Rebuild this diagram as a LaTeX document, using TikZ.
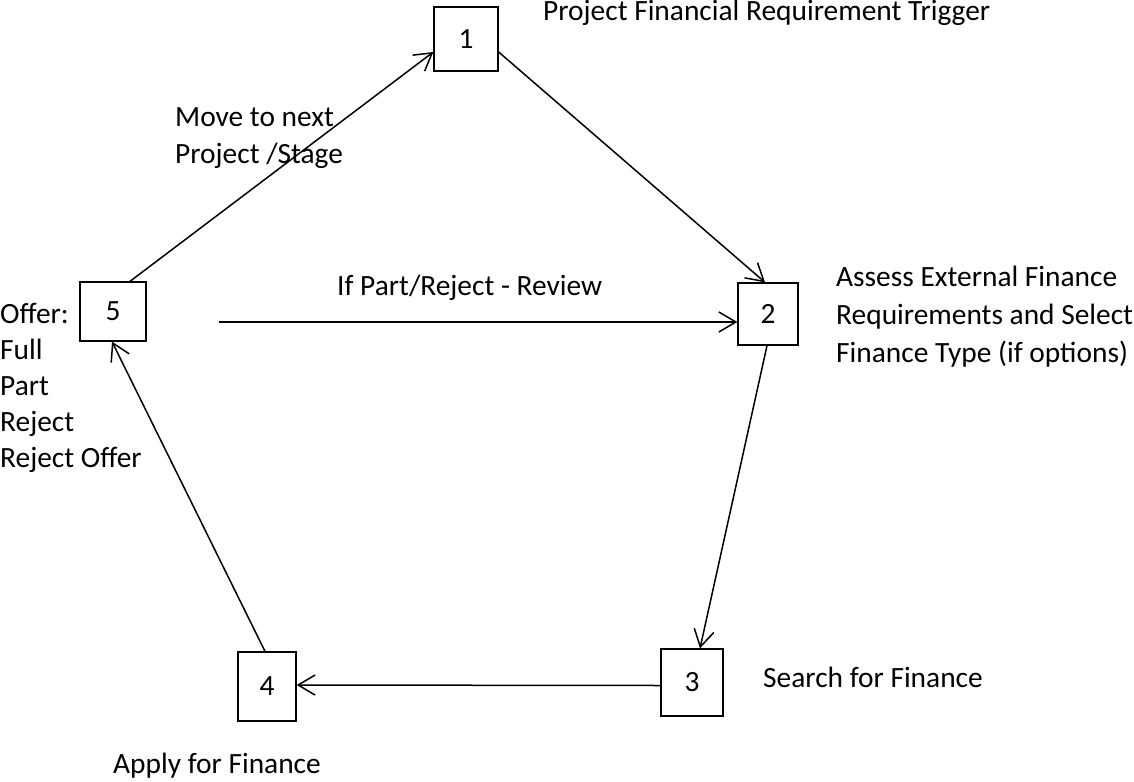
\documentclass[tikz,border=0pt]{standalone}
\usepackage{fontspec}
\setmainfont{Carlito}
\usetikzlibrary{arrows.meta}
\begin{document}
\begin{tikzpicture}[x=1pt,y=-1pt,
  box/.style={draw,line width=1.3pt,inner sep=0pt,font=\fontsize{29.4}{36}\selectfont},
  lbl/.style={inner sep=0pt,font=\fontsize{29.4}{36}\selectfont,align=left},
  conn/.style={line width=1.5pt,-{Straight Barb[length=17pt,width=20pt,line width=1.5pt]}}]
\useasboundingbox (0,0) rectangle (1134,781);
% boxes
\node[box,minimum width=64pt,minimum height=64pt] (n1) at (466,39) {1};
\node[box,minimum width=60pt,minimum height=62pt] (n2) at (768,314) {2};
\node[box,minimum width=62pt,minimum height=67pt] (n3) at (692,682.5) {3};
\node[box,minimum width=58pt,minimum height=69pt] (n4) at (267,686.5) {4};
\node[box,minimum width=66pt,minimum height=59pt] (n5) at (113,311.5) {5};
\coordinate (hs) at (219,322);
% connectors
\draw[conn] ([xshift=17pt]n5.north) -- ([yshift=-13pt]n1.west);
\draw[conn] ([yshift=-13pt]n1.east) -- ([xshift=-3pt]n2.north);
\draw[conn] (hs) -- ([yshift=-8pt]n2.west);
\draw[conn] ([xshift=-1pt]n2.south) -- ([xshift=8pt]n3.north);
\draw[conn] ([yshift=-3pt]n3.west) -- ([yshift=1.5pt]n4.east);
\draw[conn] ([xshift=-2pt]n4.north) -- ([xshift=-1pt]n5.south);
% labels
\node[lbl,anchor=base west] (t1) at (543,21) {Project Financial Requirement Trigger};
\node[lbl,anchor=base west,font=\fontsize{29.4}{38}\selectfont] (t2) at (836,362) {Assess External Finance\\Requirements and Select\\Finance Type (if options)};
\node[lbl,anchor=base west] (t3) at (763,687) {Search for Finance};
\node[lbl,anchor=base west] (t4) at (113,773) {Apply for Finance};
\node[lbl,anchor=base west] (t5) at (0,467) {Offer:\\Full\\Part\\Reject\\Reject Offer};
\node[lbl,anchor=base west] (t6) at (175,163) {Move to next\\Project /Stage};
\node[lbl,anchor=base west] (t7) at (337,295) {If Part/Reject - Review};
\end{tikzpicture}
\end{document}
